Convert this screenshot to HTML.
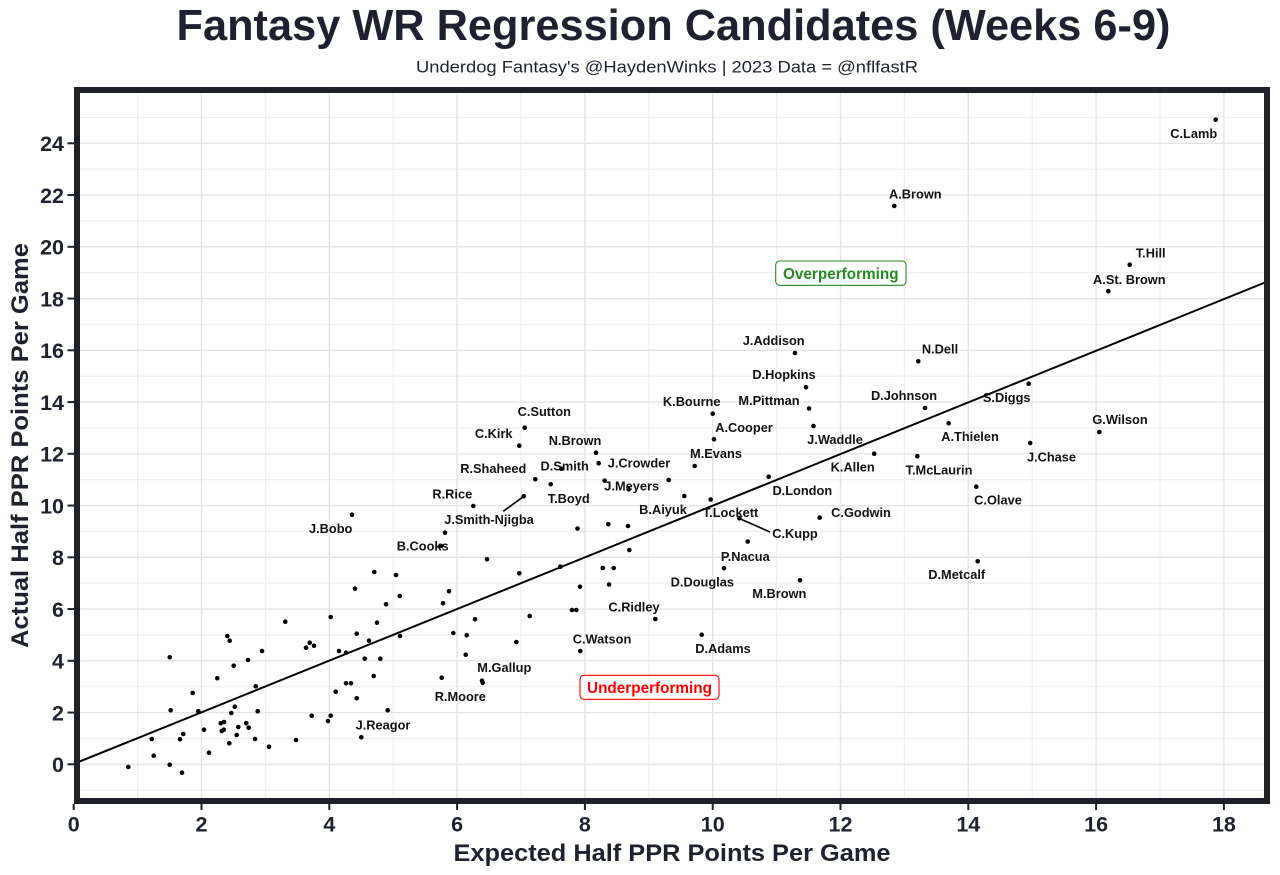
<!DOCTYPE html>
<html><head><meta charset="utf-8"><style>
html,body{margin:0;padding:0;background:#fff;}
svg{display:block;font-family:"Liberation Sans",Arial,sans-serif;}
</style></head><body>
<svg width="1280" height="875" viewBox="0 0 1280 875" xmlns="http://www.w3.org/2000/svg">
<rect x="0" y="0" width="1280" height="875" fill="#fff"/>
<text x="673.5" y="40" text-anchor="middle" font-size="43.3" font-weight="bold" fill="#1e2130" textLength="994" lengthAdjust="spacingAndGlyphs">Fantasy WR Regression Candidates (Weeks 6-9)</text>
<text x="416" y="72.5" font-size="16.3" fill="#1e2130" textLength="502" lengthAdjust="spacingAndGlyphs">Underdog Fantasy's @HaydenWinks | 2023 Data = @nflfastR</text>

<!-- grid minor -->
<g stroke="#eeeeee" stroke-width="1.1">
<line x1="77" x2="1267" y1="790.2" y2="790.2"/><line x1="77" x2="1267" y1="738.4" y2="738.4"/><line x1="77" x2="1267" y1="686.7" y2="686.7"/><line x1="77" x2="1267" y1="634.9" y2="634.9"/><line x1="77" x2="1267" y1="583.2" y2="583.2"/><line x1="77" x2="1267" y1="531.4" y2="531.4"/><line x1="77" x2="1267" y1="479.7" y2="479.7"/><line x1="77" x2="1267" y1="427.9" y2="427.9"/><line x1="77" x2="1267" y1="376.2" y2="376.2"/><line x1="77" x2="1267" y1="324.4" y2="324.4"/><line x1="77" x2="1267" y1="272.7" y2="272.7"/><line x1="77" x2="1267" y1="220.9" y2="220.9"/><line x1="77" x2="1267" y1="169.2" y2="169.2"/><line x1="77" x2="1267" y1="117.4" y2="117.4"/>
<line y1="90" y2="801" x1="137.6" x2="137.6"/><line y1="90" y2="801" x1="265.4" x2="265.4"/><line y1="90" y2="801" x1="393.2" x2="393.2"/><line y1="90" y2="801" x1="521" x2="521"/><line y1="90" y2="801" x1="648.8" x2="648.8"/><line y1="90" y2="801" x1="776.6" x2="776.6"/><line y1="90" y2="801" x1="904.4" x2="904.4"/><line y1="90" y2="801" x1="1032.2" x2="1032.2"/><line y1="90" y2="801" x1="1160" x2="1160"/>
</g>
<!-- grid major -->
<g stroke="#e4e4e4" stroke-width="1.4">
<line x1="77" x2="1267" y1="764.3" y2="764.3"/><line x1="77" x2="1267" y1="712.55" y2="712.55"/><line x1="77" x2="1267" y1="660.8" y2="660.8"/><line x1="77" x2="1267" y1="609.05" y2="609.05"/><line x1="77" x2="1267" y1="557.3" y2="557.3"/><line x1="77" x2="1267" y1="505.55" y2="505.55"/><line x1="77" x2="1267" y1="453.8" y2="453.8"/><line x1="77" x2="1267" y1="402.05" y2="402.05"/><line x1="77" x2="1267" y1="350.3" y2="350.3"/><line x1="77" x2="1267" y1="298.55" y2="298.55"/><line x1="77" x2="1267" y1="246.8" y2="246.8"/><line x1="77" x2="1267" y1="195.05" y2="195.05"/><line x1="77" x2="1267" y1="143.3" y2="143.3"/>
<line y1="90" y2="801" x1="201.5" x2="201.5"/><line y1="90" y2="801" x1="329.3" x2="329.3"/><line y1="90" y2="801" x1="457.1" x2="457.1"/><line y1="90" y2="801" x1="584.9" x2="584.9"/><line y1="90" y2="801" x1="712.7" x2="712.7"/><line y1="90" y2="801" x1="840.5" x2="840.5"/><line y1="90" y2="801" x1="968.3" x2="968.3"/><line y1="90" y2="801" x1="1096.1" x2="1096.1"/><line y1="90" y2="801" x1="1223.9" x2="1223.9"/>
</g>

<!-- regression line -->
<line x1="77" y1="762.6" x2="1265" y2="282.5" stroke="#000" stroke-width="2"/>

<!-- segments -->
<g stroke="#000" stroke-width="1.6">
<line x1="523.7" y1="496.3" x2="503.3" y2="511.3"/>
<line x1="739.3" y1="518.5" x2="770" y2="532"/>
</g>

<!-- points -->
<g fill="#000">
<circle cx="473.3" cy="506" r="2.3"/><circle cx="352" cy="514.7" r="2.3"/><circle cx="445" cy="532.7" r="2.3"/><circle cx="441" cy="546" r="2.3"/><circle cx="374.3" cy="572" r="2.3"/><circle cx="396" cy="575" r="2.3"/><circle cx="355" cy="588.7" r="2.3"/><circle cx="399.7" cy="596" r="2.3"/><circle cx="449" cy="591.3" r="2.3"/><circle cx="443" cy="603.3" r="2.3"/><circle cx="386" cy="604.3" r="2.3"/><circle cx="285.3" cy="621.7" r="2.3"/><circle cx="330.7" cy="617" r="2.3"/><circle cx="377" cy="622.7" r="2.3"/><circle cx="475" cy="619.3" r="2.3"/><circle cx="356.7" cy="633.7" r="2.3"/><circle cx="400" cy="636" r="2.3"/><circle cx="369" cy="640.7" r="2.3"/><circle cx="453.3" cy="633" r="2.3"/><circle cx="466.7" cy="635.3" r="2.3"/><circle cx="227.3" cy="636" r="2.3"/><circle cx="229.7" cy="640.7" r="2.3"/><circle cx="309.7" cy="642.7" r="2.3"/><circle cx="306" cy="647.7" r="2.3"/><circle cx="314" cy="645.7" r="2.3"/><circle cx="169.7" cy="657.3" r="2.3"/><circle cx="262" cy="651" r="2.3"/><circle cx="248" cy="660" r="2.3"/><circle cx="339" cy="651" r="2.3"/><circle cx="346" cy="652.7" r="2.3"/><circle cx="364.7" cy="658.7" r="2.3"/><circle cx="380.3" cy="658.7" r="2.3"/><circle cx="465.7" cy="654.7" r="2.3"/><circle cx="233.7" cy="665.7" r="2.3"/><circle cx="217.3" cy="678.3" r="2.3"/><circle cx="373.7" cy="676" r="2.3"/><circle cx="441.7" cy="677.7" r="2.3"/><circle cx="255.7" cy="686.3" r="2.3"/><circle cx="346" cy="683.3" r="2.3"/><circle cx="351" cy="683.3" r="2.3"/><circle cx="335.7" cy="691.7" r="2.3"/><circle cx="192.7" cy="693" r="2.3"/><circle cx="356.7" cy="698.3" r="2.3"/><circle cx="170.7" cy="710.3" r="2.3"/><circle cx="198.3" cy="711.3" r="2.3"/><circle cx="234.7" cy="706.7" r="2.3"/><circle cx="231.3" cy="713" r="2.3"/><circle cx="257.7" cy="711.3" r="2.3"/><circle cx="311.7" cy="715.7" r="2.3"/><circle cx="330.7" cy="715.7" r="2.3"/><circle cx="387.7" cy="710.3" r="2.3"/><circle cx="328" cy="721" r="2.3"/><circle cx="204" cy="729.7" r="2.3"/><circle cx="220.7" cy="723.3" r="2.3"/><circle cx="224" cy="722" r="2.3"/><circle cx="221.7" cy="731" r="2.3"/><circle cx="223.7" cy="729.7" r="2.3"/><circle cx="238.3" cy="727" r="2.3"/><circle cx="246.3" cy="723.3" r="2.3"/><circle cx="248.7" cy="727.7" r="2.3"/><circle cx="151.7" cy="739" r="2.3"/><circle cx="180" cy="739.3" r="2.3"/><circle cx="183.3" cy="734" r="2.3"/><circle cx="236.7" cy="735" r="2.3"/><circle cx="255" cy="739" r="2.3"/><circle cx="229.3" cy="743.3" r="2.3"/><circle cx="269" cy="746.7" r="2.3"/><circle cx="296" cy="740" r="2.3"/><circle cx="361.3" cy="737.3" r="2.3"/><circle cx="209" cy="752.7" r="2.3"/><circle cx="153.7" cy="755.7" r="2.3"/><circle cx="169.7" cy="764.7" r="2.3"/><circle cx="128.3" cy="767" r="2.3"/><circle cx="182" cy="772.7" r="2.3"/>
<circle cx="524.7" cy="427.7" r="2.3"/><circle cx="519.3" cy="445.7" r="2.3"/><circle cx="596" cy="452.7" r="2.3"/><circle cx="598.7" cy="463.3" r="2.3"/><circle cx="561.3" cy="468.7" r="2.3"/><circle cx="535.3" cy="479.3" r="2.3"/><circle cx="550.7" cy="484.3" r="2.3"/><circle cx="604.7" cy="480.7" r="2.3"/><circle cx="628.7" cy="489.3" r="2.3"/><circle cx="668.7" cy="480" r="2.3"/><circle cx="694.7" cy="466" r="2.3"/><circle cx="712.7" cy="413.7" r="2.3"/><circle cx="714" cy="439.3" r="2.3"/><circle cx="684.3" cy="496" r="2.3"/><circle cx="710.7" cy="499.5" r="2.3"/><circle cx="739.3" cy="518.3" r="2.3"/><circle cx="523.7" cy="496.3" r="2.3"/><circle cx="577.5" cy="528.5" r="2.3"/><circle cx="608.3" cy="524.3" r="2.3"/><circle cx="628" cy="526" r="2.3"/><circle cx="629.3" cy="550" r="2.3"/><circle cx="747.7" cy="541.5" r="2.3"/><circle cx="487" cy="559.3" r="2.3"/><circle cx="519.3" cy="573.3" r="2.3"/><circle cx="560.3" cy="566.7" r="2.3"/><circle cx="602.7" cy="568" r="2.3"/><circle cx="613.7" cy="568" r="2.3"/><circle cx="580" cy="586.7" r="2.3"/><circle cx="609" cy="584.5" r="2.3"/><circle cx="724" cy="568.2" r="2.3"/><circle cx="572" cy="610" r="2.3"/><circle cx="576.3" cy="610" r="2.3"/><circle cx="529.7" cy="616" r="2.3"/><circle cx="655.3" cy="619" r="2.3"/><circle cx="516.3" cy="642" r="2.3"/><circle cx="701.7" cy="634.7" r="2.3"/><circle cx="580.3" cy="651" r="2.3"/><circle cx="482" cy="680.7" r="2.3"/><circle cx="482.7" cy="682.8" r="2.3"/>
<circle cx="795" cy="353" r="2.3"/><circle cx="806" cy="387.3" r="2.3"/><circle cx="809" cy="408.5" r="2.3"/><circle cx="813.5" cy="426" r="2.3"/><circle cx="874.2" cy="453.7" r="2.3"/><circle cx="768.7" cy="476.7" r="2.3"/><circle cx="819.7" cy="517.7" r="2.3"/><circle cx="800" cy="580.3" r="2.3"/>
<circle cx="894.3" cy="206" r="2.3"/><circle cx="1108.3" cy="291.2" r="2.3"/><circle cx="918.3" cy="361.3" r="2.3"/><circle cx="925" cy="408" r="2.3"/><circle cx="1028.7" cy="383.7" r="2.3"/><circle cx="948.7" cy="423.3" r="2.3"/><circle cx="917.3" cy="456.2" r="2.3"/><circle cx="1030.2" cy="443" r="2.3"/><circle cx="1099.3" cy="432" r="2.3"/><circle cx="976.3" cy="486.7" r="2.3"/><circle cx="977.7" cy="561.3" r="2.3"/><circle cx="1215.7" cy="119.7" r="2.3"/><circle cx="1129.7" cy="264.7" r="2.3"/>
</g>

<!-- labels -->
<g font-size="12.8" font-weight="bold" fill="#111" text-anchor="middle">
<text x="1193.7" y="137.8">C.Lamb</text>
<text x="915.3" y="198.5">A.Brown</text>
<text x="1150.7" y="257.5">T.Hill</text>
<text x="1129.3" y="284.2">A.St. Brown</text>
<text x="773.7" y="345.2">J.Addison</text>
<text x="940" y="353.5">N.Dell</text>
<text x="784" y="378.8">D.Hopkins</text>
<text x="904" y="400.2">D.Johnson</text>
<text x="1006.7" y="402.2">S.Diggs</text>
<text x="769" y="405.2">M.Pittman</text>
<text x="691.7" y="406.2">K.Bourne</text>
<text x="544.3" y="416.2">C.Sutton</text>
<text x="1120" y="424.2">G.Wilson</text>
<text x="744" y="431.8">A.Cooper</text>
<text x="493.7" y="438.2">C.Kirk</text>
<text x="970" y="441.2">A.Thielen</text>
<text x="835" y="443.8">J.Waddle</text>
<text x="575" y="445.2">N.Brown</text>
<text x="716" y="458">M.Evans</text>
<text x="1051.5" y="461.3">J.Chase</text>
<text x="639" y="467.5">J.Crowder</text>
<text x="564.7" y="470.5">D.Smith</text>
<text x="852.7" y="471.5">K.Allen</text>
<text x="493.3" y="472.8">R.Shaheed</text>
<text x="939" y="474.5">T.McLaurin</text>
<text x="631.7" y="490.5">J.Meyers</text>
<text x="802.3" y="494.8">D.London</text>
<text x="452.3" y="498.5">R.Rice</text>
<text x="568.7" y="503.2">T.Boyd</text>
<text x="998" y="504.5">C.Olave</text>
<text x="663" y="514">B.Aiyuk</text>
<text x="730.5" y="517">T.Lockett</text>
<text x="861" y="517">C.Godwin</text>
<text x="489" y="523.8">J.Smith-Njigba</text>
<text x="330.7" y="532.8">J.Bobo</text>
<text x="795" y="538.2">C.Kupp</text>
<text x="422.7" y="550.5">B.Cooks</text>
<text x="745.3" y="560.8">P.Nacua</text>
<text x="956.7" y="578.8">D.Metcalf</text>
<text x="702.3" y="586.5">D.Douglas</text>
<text x="779.3" y="598.2">M.Brown</text>
<text x="634" y="611.5">C.Ridley</text>
<text x="602" y="643.7">C.Watson</text>
<text x="723" y="652.8">D.Adams</text>
<text x="504.3" y="672.2">M.Gallup</text>
<text x="460.3" y="701.2">R.Moore</text>
<text x="383" y="729.5">J.Reagor</text>
</g>

<!-- annotation boxes -->
<rect x="775.7" y="261" width="130.3" height="24.3" rx="4" ry="4" fill="#fff" stroke="#228b22" stroke-width="1.1"/>
<text x="840.8" y="279.2" text-anchor="middle" font-size="15.3" font-weight="bold" fill="#228b22">Overperforming</text>
<rect x="580" y="675.3" width="139" height="24" rx="4" ry="4" fill="#fff" stroke="#ff0000" stroke-width="1.1"/>
<text x="649.5" y="693.2" text-anchor="middle" font-size="15.3" font-weight="bold" fill="#ff0000">Underperforming</text>

<!-- panel border -->
<rect x="77" y="90" width="1190" height="711" fill="none" stroke="#1e212b" stroke-width="6"/>

<!-- ticks -->
<g stroke="#1e212b" stroke-width="2">
<line x1="67.5" x2="74" y1="764.3" y2="764.3"/><line x1="67.5" x2="74" y1="712.55" y2="712.55"/><line x1="67.5" x2="74" y1="660.8" y2="660.8"/><line x1="67.5" x2="74" y1="609.05" y2="609.05"/><line x1="67.5" x2="74" y1="557.3" y2="557.3"/><line x1="67.5" x2="74" y1="505.55" y2="505.55"/><line x1="67.5" x2="74" y1="453.8" y2="453.8"/><line x1="67.5" x2="74" y1="402.05" y2="402.05"/><line x1="67.5" x2="74" y1="350.3" y2="350.3"/><line x1="67.5" x2="74" y1="298.55" y2="298.55"/><line x1="67.5" x2="74" y1="246.8" y2="246.8"/><line x1="67.5" x2="74" y1="195.05" y2="195.05"/><line x1="67.5" x2="74" y1="143.3" y2="143.3"/>
<line y1="804" y2="810" x1="73.7" x2="73.7"/><line y1="804" y2="810" x1="201.5" x2="201.5"/><line y1="804" y2="810" x1="329.3" x2="329.3"/><line y1="804" y2="810" x1="457.1" x2="457.1"/><line y1="804" y2="810" x1="584.9" x2="584.9"/><line y1="804" y2="810" x1="712.7" x2="712.7"/><line y1="804" y2="810" x1="840.5" x2="840.5"/><line y1="804" y2="810" x1="968.3" x2="968.3"/><line y1="804" y2="810" x1="1096.1" x2="1096.1"/><line y1="804" y2="810" x1="1223.9" x2="1223.9"/>
</g>

<!-- y tick labels -->
<g font-size="21.5" font-weight="bold" fill="#1e2130" text-anchor="end">
<text x="64" y="772">0</text><text x="64" y="720.3">2</text><text x="64" y="668.5">4</text><text x="64" y="616.8">6</text><text x="64" y="565">8</text><text x="64" y="513.3">10</text><text x="64" y="461.5">12</text><text x="64" y="409.8">14</text><text x="64" y="358">16</text><text x="64" y="306.3">18</text><text x="64" y="254.5">20</text><text x="64" y="202.8">22</text><text x="64" y="151">24</text>
</g>
<!-- x tick labels -->
<g font-size="21.5" font-weight="bold" fill="#1e2130" text-anchor="middle">
<text x="73.7" y="831.5">0</text><text x="201.5" y="831.5">2</text><text x="329.3" y="831.5">4</text><text x="457.1" y="831.5">6</text><text x="584.9" y="831.5">8</text><text x="712.7" y="831.5">10</text><text x="840.5" y="831.5">12</text><text x="968.3" y="831.5">14</text><text x="1096.1" y="831.5">16</text><text x="1223.9" y="831.5">18</text>
</g>

<!-- axis titles -->
<text x="672" y="861" text-anchor="middle" font-size="24.5" font-weight="bold" fill="#1e2130" textLength="437" lengthAdjust="spacingAndGlyphs">Expected Half PPR Points Per Game</text>
<text transform="translate(28,445.5) rotate(-90)" x="0" y="0" text-anchor="middle" font-size="24.5" font-weight="bold" fill="#1e2130" textLength="405" lengthAdjust="spacingAndGlyphs">Actual Half PPR Points Per Game</text>
</svg>
</body></html>
